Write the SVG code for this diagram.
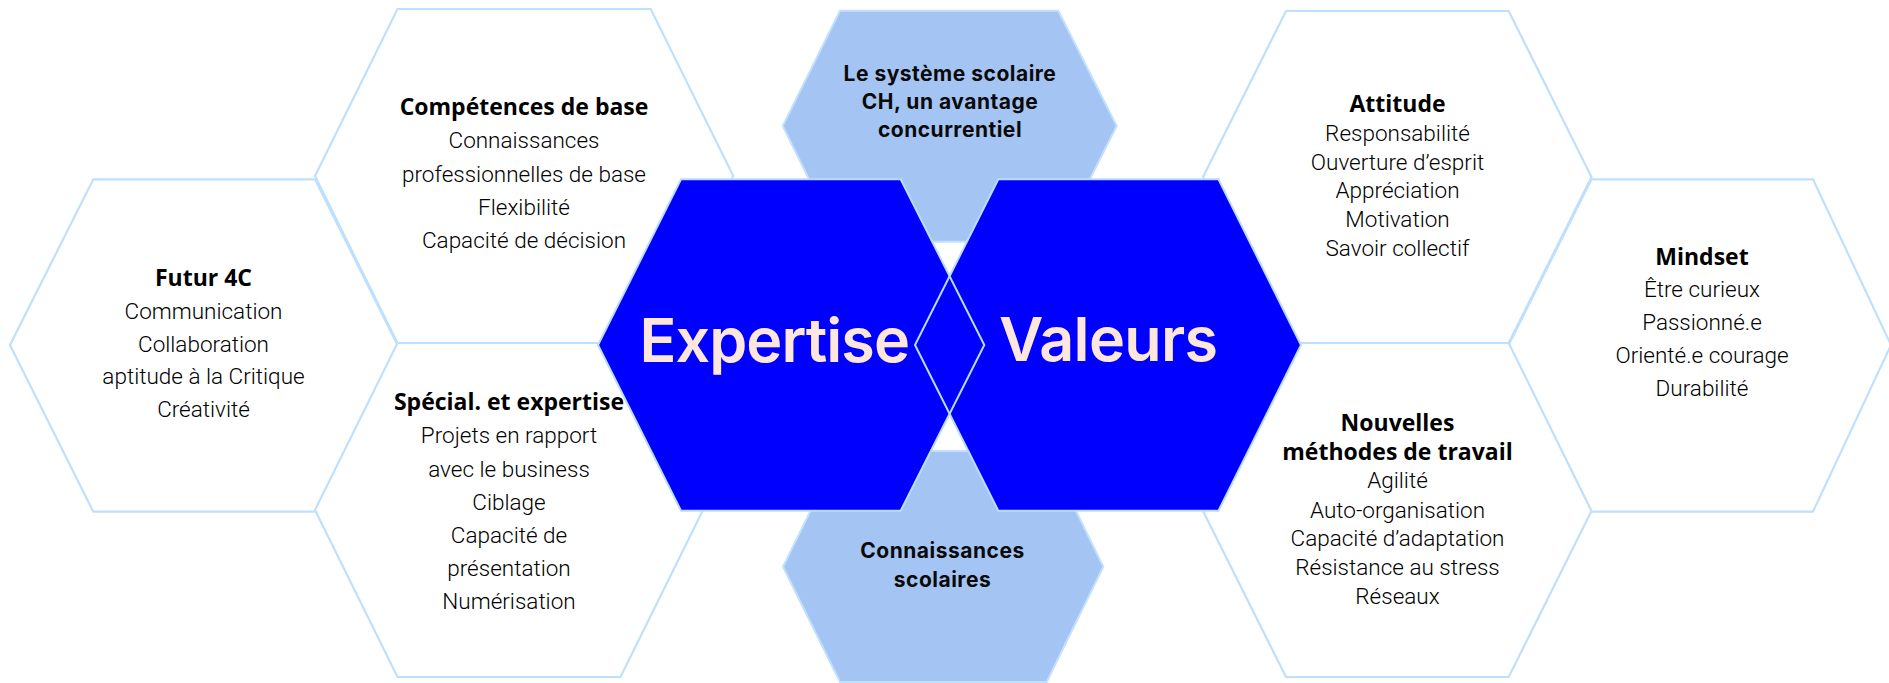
<svg xmlns="http://www.w3.org/2000/svg" width="1889" height="683" viewBox="0 0 1889 683">
<style>
.hw{fill:#ffffff;stroke:#bfe0fd;stroke-width:2.2;stroke-linejoin:miter}
.hl{fill:#a4c4f3;stroke:#c2e1fd;stroke-width:2}
.hb{fill:#0000ff;stroke:none}
.hbs{fill:none;stroke:#bcdcfc;stroke-width:2}
.t{font-family:"Open Sans","Liberation Sans",sans-serif;font-weight:700;font-size:23px;fill:#000000;text-anchor:middle}
.i{font-family:Roboto,"Liberation Sans",sans-serif;font-weight:300;font-size:22.5px;fill:#000000;text-anchor:middle}
.l{font-family:Inter,"Liberation Sans",sans-serif;font-weight:700;font-size:21px;fill:#0a0a0a;text-anchor:middle;letter-spacing:0.5px}
.big{font-family:Inter,"Liberation Sans",sans-serif;font-weight:600;font-size:61px;fill:#fde6de}
</style>
<rect width="1889" height="683" fill="#ffffff"/>

<g id="futur4c">
<polygon class="hw" points="93.3,179.3 315,179.3 397.5,345 315,511.7 93.3,511.7 10,345"/>
<text class="t" x="203.5" y="286">Futur 4C</text>
<text class="i" x="203.5" y="319">Communication</text>
<text class="i" x="203.5" y="351.5">Collaboration</text>
<text class="i" x="203.5" y="384">aptitude à la Critique</text>
<text class="i" x="203.5" y="417">Créativité</text>
</g>

<g id="competences">
<polygon class="hw" points="397.5,9 650.7,9 733.3,176 650.7,343 397.5,343 315,176"/>
<text class="t" x="524" y="115">Compétences de base</text>
<text class="i" x="524" y="148">Connaissances</text>
<text class="i" x="524" y="181.5">professionnelles de base</text>
<text class="i" x="524" y="215">Flexibilité</text>
<text class="i" x="524" y="248">Capacité de décision</text>
</g>

<g id="special">
<polygon class="hw" points="397.5,343 620.5,343 703,510 620.5,677 397.5,677 315,510"/>
<text class="t" x="509" y="410">Spécial. et expertise</text>
<text class="i" x="509" y="443">Projets en rapport</text>
<text class="i" x="509" y="476.5">avec le business</text>
<text class="i" x="509" y="509.5">Ciblage</text>
<text class="i" x="509" y="542.5">Capacité de</text>
<text class="i" x="509" y="575.5">présentation</text>
<text class="i" x="509" y="608.5">Numérisation</text>
</g>

<g id="attitude">
<polygon class="hw" points="1286,11 1508.7,11 1591.5,177 1508.7,343 1286,343 1203,177"/>
<text class="t" x="1397.5" y="111.5">Attitude</text>
<text class="i" x="1397.5" y="140.5">Responsabilité</text>
<text class="i" x="1397.5" y="169.5">Ouverture d’esprit</text>
<text class="i" x="1397.5" y="198">Appréciation</text>
<text class="i" x="1397.5" y="227">Motivation</text>
<text class="i" x="1397.5" y="256">Savoir collectif</text>
</g>

<g id="mindset">
<polygon class="hw" points="1591.5,179.3 1813,179.3 1891,345 1813,511.7 1591.5,511.7 1508.7,345"/>
<text class="t" x="1702" y="265">Mindset</text>
<text class="i" x="1702" y="297">Être curieux</text>
<text class="i" x="1702" y="330">Passionné.e</text>
<text class="i" x="1702" y="363">Orienté.e courage</text>
<text class="i" x="1702" y="396">Durabilité</text>
</g>

<g id="nouvelles">
<polygon class="hw" points="1286,343 1508.7,343 1591.5,511 1508.7,677 1286,677 1203,511"/>
<text class="t" x="1397.5" y="431">Nouvelles</text>
<text class="t" x="1397.5" y="459.5">méthodes de travail</text>
<text class="i" x="1397.5" y="488">Agilité</text>
<text class="i" x="1397.5" y="517.5">Auto-organisation</text>
<text class="i" x="1397.5" y="546">Capacité d’adaptation</text>
<text class="i" x="1397.5" y="575">Résistance au stress</text>
<text class="i" x="1397.5" y="603.5">Réseaux</text>
</g>

<g id="systeme-scolaire">
<polygon class="hl" points="840,10.7 1058.3,10.7 1116.7,126 1058.3,241.7 840,241.7 782.7,126"/>
<text class="l" x="950" y="81">Le système scolaire</text>
<text class="l" x="950" y="108.7">CH, un avantage</text>
<text class="l" x="950" y="136.7">concurrentiel</text>
</g>

<g id="connaissances-scolaires">
<polygon class="hl" points="840,451 1046.7,451 1103.3,566.7 1046.7,682 840,682 783,566.7"/>
<text class="l" x="942.5" y="558.3">Connaissances</text>
<text class="l" x="942.5" y="586.7">scolaires</text>
</g>

<g id="expertise">
<polygon class="hb" points="681,179.3 900.7,179.3 984.3,345 900.7,510.7 681,510.7 598,345"/>
<text class="big" x="639.5" y="361.7" textLength="270.5" lengthAdjust="spacing">Expertise</text>
</g>

<g id="valeurs">
<polygon class="hb" points="998.3,179.3 1218.5,179.3 1301,345 1218.5,510.7 998.3,510.7 915,345"/>
<text class="big" x="999" y="360.8" textLength="219" lengthAdjust="spacing">Valeurs</text>
</g>

<g id="outlines">
<polygon class="hbs" points="681,179.3 900.7,179.3 984.3,345 900.7,510.7 681,510.7 598,345"/>
<polygon class="hbs" points="998.3,179.3 1218.5,179.3 1301,345 1218.5,510.7 998.3,510.7 915,345"/>
</g>
</svg>
